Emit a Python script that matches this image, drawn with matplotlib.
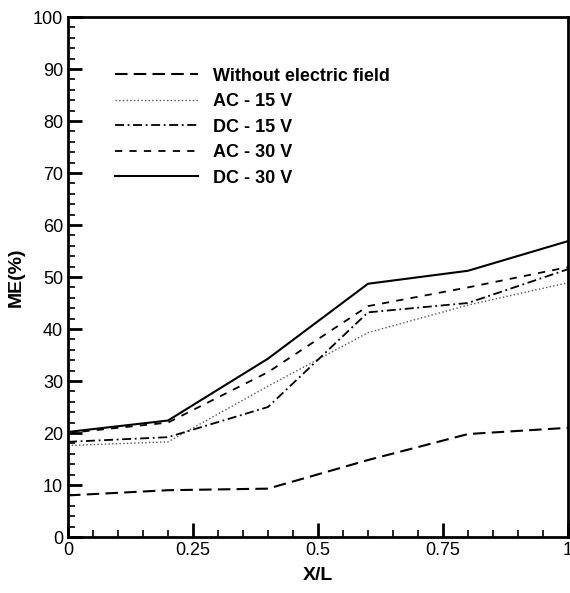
import matplotlib.pyplot as plt
from matplotlib.ticker import MultipleLocator, FormatStrFormatter

plt.rcParams['font.family'] = ['Liberation Sans', 'DejaVu Sans']

x_over_l = [0, 0.2, 0.4, 0.6, 0.8, 1.0]
without_field = [8.0, 9.0, 9.3, 14.8, 19.8, 21.0]
ac_15 = [17.6, 18.3, 29.0, 39.3, 44.6, 48.9]
dc_15 = [18.3, 19.2, 25.0, 43.2, 45.0, 51.5]
ac_30 = [20.0, 22.0, 31.7, 44.4, 48.0, 51.9]
dc_30 = [20.2, 22.4, 34.3, 48.7, 51.2, 56.9]

fig = plt.figure(figsize=(5.70, 5.93), dpi=100)
ax = fig.add_axes([68 / 570, 56 / 593, 500 / 570, 520 / 593])

ax.plot(x_over_l, without_field, color='black', lw=1.5, dashes=(6, 3), label='Without electric field')
ax.plot(x_over_l, ac_15, color='#555555', lw=1.0, linestyle=':', label='AC - 15 V')
ax.plot(x_over_l, dc_15, color='black', lw=1.3, dashes=(5, 2, 1, 2), label='DC - 15 V')
ax.plot(x_over_l, ac_30, color='black', lw=1.3, dashes=(4, 4), label='AC - 30 V')
ax.plot(x_over_l, dc_30, color='black', lw=1.5, linestyle='-', label='DC - 30 V')

ax.set_xlim(0, 1)
ax.set_ylim(0, 100)
ax.xaxis.set_major_locator(MultipleLocator(0.25))
ax.xaxis.set_minor_locator(MultipleLocator(0.05))
ax.yaxis.set_major_locator(MultipleLocator(10))
ax.yaxis.set_minor_locator(MultipleLocator(2))
ax.xaxis.set_major_formatter(FormatStrFormatter('%g'))

ax.tick_params(which='both', direction='in', top=False, right=False, labelsize=13, width=1.2)
ax.tick_params(which='major', length=10, width=2)
ax.tick_params(which='minor', length=5)
for side in ax.spines.values():
    side.set_linewidth(2)

ax.set_xlabel('X/L', fontsize=14, fontweight='bold', labelpad=6)
ax.set_ylabel('ME(%)', fontsize=14, fontweight='bold', labelpad=6)

leg = ax.legend(loc='upper left', bbox_to_anchor=(0.062, 0.934), frameon=False,
                handlelength=4.6, handletextpad=0.8, prop={'weight': 'bold', 'size': 13},
                labelspacing=0.47)

fig.savefig('out.png', dpi=100)
